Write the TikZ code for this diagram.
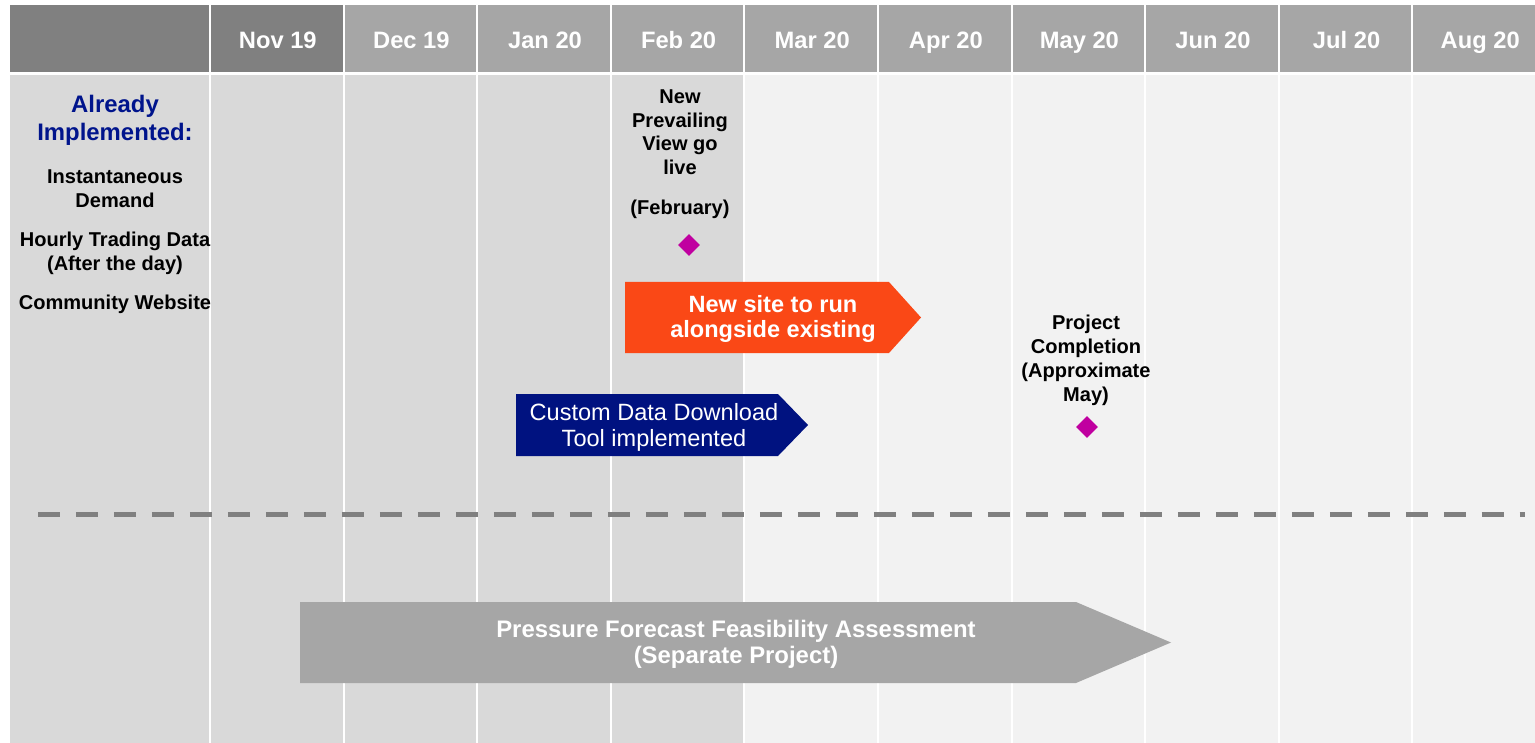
\documentclass[tikz,border=0pt]{standalone}
\usepackage{fontspec}
\setmainfont{Liberation Sans}
\usetikzlibrary{shapes.geometric}

\definecolor{hdrdark}{HTML}{808080}
\definecolor{hdrlight}{HTML}{A6A6A6}
\definecolor{pastcol}{HTML}{D9D9D9}
\definecolor{nextcol}{HTML}{F2F2F2}
\definecolor{donetitle}{RGB}{0,20,140}
\definecolor{siteorange}{RGB}{250,72,22}
\definecolor{toolblue}{RGB}{0,18,128}
\definecolor{milestone}{RGB}{192,0,160}

\begin{document}
\begin{tikzpicture}[x=0.02cm,y=-0.02cm]
    \tikzstyle{month}=[text=white,anchor=base,font=\fontsize{13.5}{16}\selectfont\bfseries]
    \tikzstyle{note}=[align=center,inner sep=0pt,font=\fontsize{11.4}{13.6}\selectfont\bfseries]
    \tikzstyle{bartext}=[align=center,inner sep=0pt,text=white,font=\fontsize{13.4}{14.7}\selectfont\bfseries]
    \tikzstyle{gem}=[diamond,fill=milestone,inner sep=0pt,minimum size=0.44cm]
    \useasboundingbox (0,0) rectangle (1535,743);
    \fill[white] (0,0) rectangle (1535,743);

    % left column
    \fill[hdrdark] (10,5) rectangle (209,72);
    \fill[pastcol] (10,75) rectangle (209,743);

    % month columns
    \foreach \m [count=\i from 0] in {Nov 19,Dec 19,Jan 20,Feb 20,Mar 20,Apr 20,May 20,Jun 20,Jul 20,Aug 20} {
        \pgfmathsetmacro{\xa}{211+\i*133.6}
        \pgfmathsetmacro{\xb}{\xa+131.6}
        \ifnum\i=0 \def\hc{hdrdark}\else\def\hc{hdrlight}\fi
        \ifnum\i<4 \def\bc{pastcol}\else\def\bc{nextcol}\fi
        \fill[\hc] (\xa,5) rectangle (\xb,72);
        \fill[\bc] (\xa,75) rectangle (\xb,743);
        \node[month] (m\i) at ({\xa+66.8},48.5) {\m};
    }

    % already implemented
    \node[note,text=donetitle,font=\fontsize{13.6}{15.9}\selectfont\bfseries] (done) at (115,120) {Already\\Implemented:};
    \node[note] (demand) at (115,189) {Instantaneous\\Demand};
    \node[note] (trading) at (115,253) {Hourly Trading Data\\(After the day)};
    \node[note] (website) at (115,304) {Community Website};

    % milestones
    \node[note] (golive) at (680,154) {New\\Prevailing\\View go\\live\\[9pt](February)};
    \node[gem] (gemfeb) at (689,245) {};
    \node[note] (complete) at (1086,360) {Project\\Completion\\(Approximate\\May)};
    \node[gem] (gemmay) at (1087,427) {};

    % activity bars
    \fill[siteorange] (625,282) -- (889,282) -- (921,317.5) -- (889,353) -- (625,353) -- cycle;
    \node[bartext] (newsite) at (773,319) {New site to run\\alongside existing};
    \fill[toolblue] (516,394) -- (778,394) -- (808,425) -- (778,456) -- (516,456) -- cycle;
    \node[bartext,font=\fontsize{13.4}{14.7}\selectfont] (tool) at (654,427) {Custom Data Download\\Tool implemented};

    \draw[hdrdark,line width=0.1cm,dash pattern=on 0.44cm off 0.32cm] (38,514) -- (1525,514);

    \fill[hdrlight] (300,602) -- (1076,602) -- (1171,642.5) -- (1076,683) -- (300,683) -- cycle;
    \node[bartext,font=\fontsize{13.6}{14.7}\selectfont\bfseries] (pressure) at (736,644) {Pressure Forecast Feasibility Assessment\\(Separate Project)};
\end{tikzpicture}
\end{document}
